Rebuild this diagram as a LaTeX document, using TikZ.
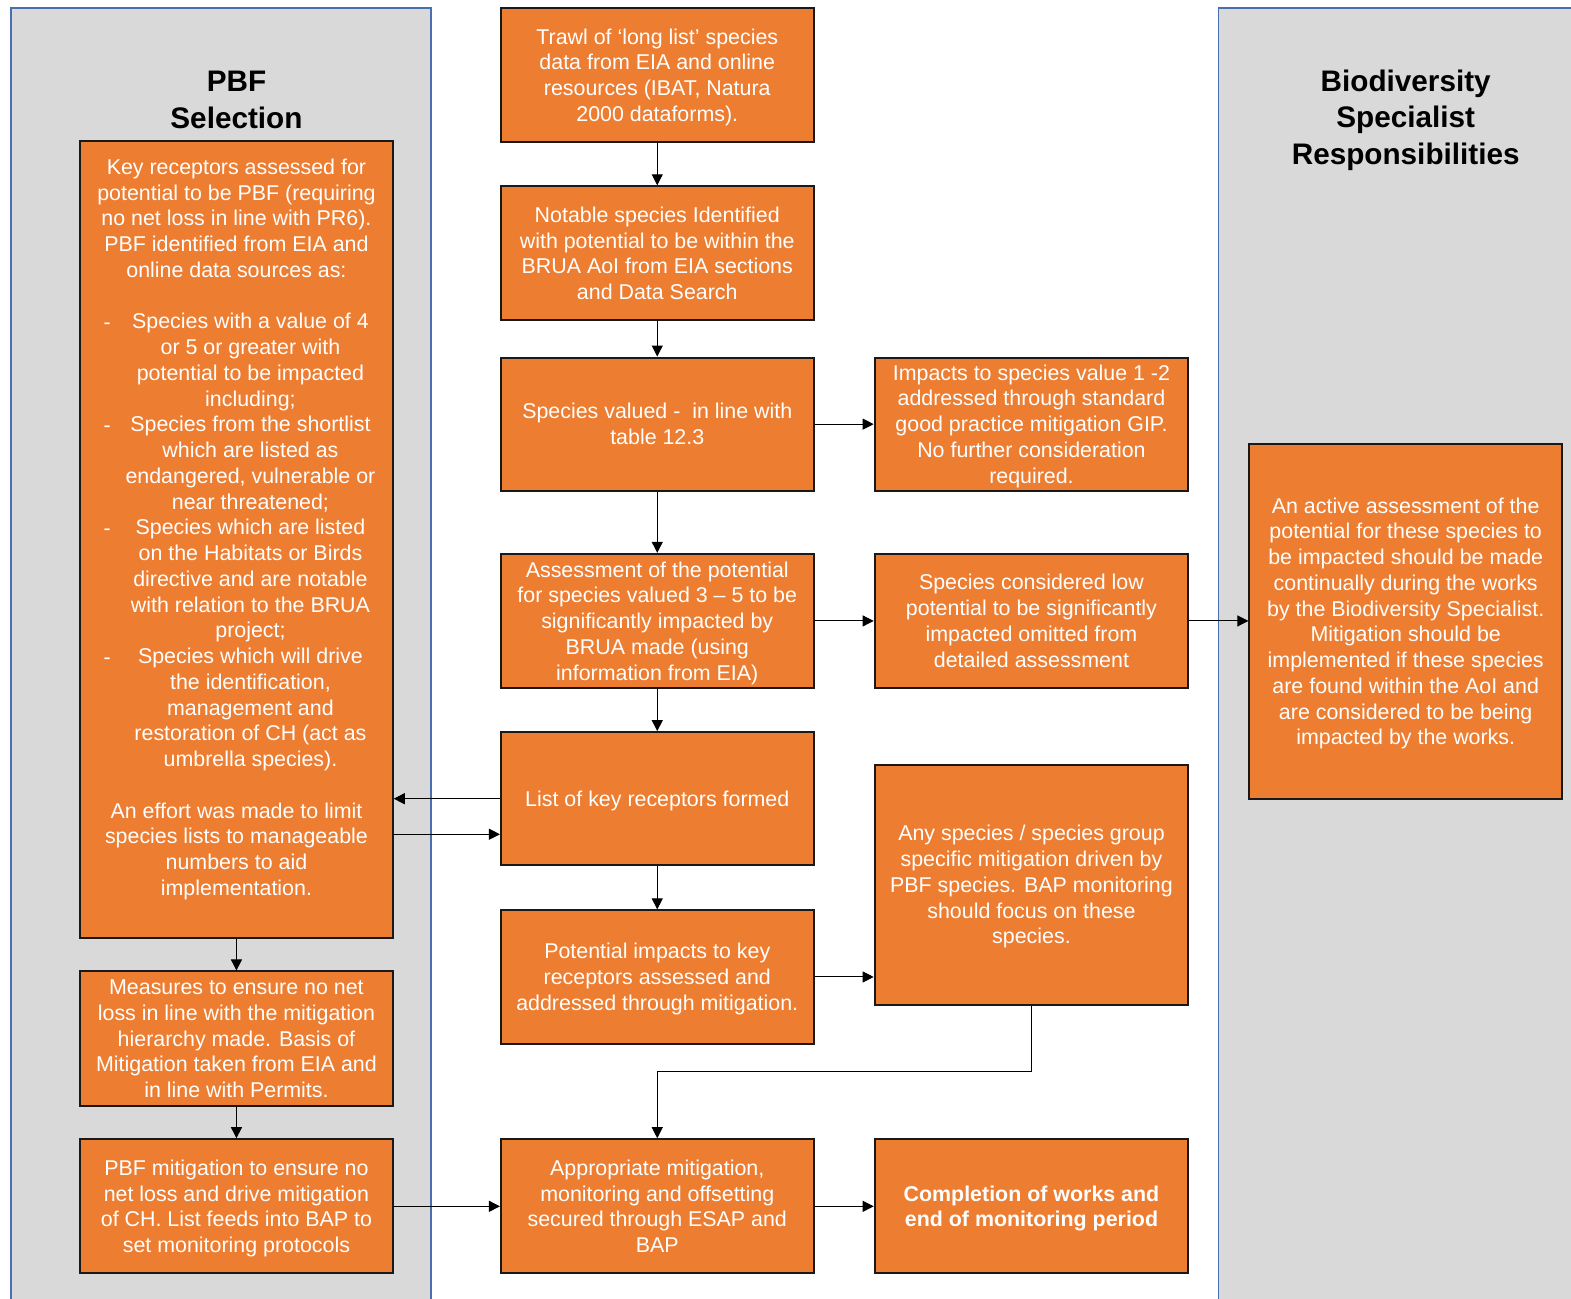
\documentclass[tikz,border=0pt]{standalone}
\usepackage{fontspec}
\usepackage{array}
\setmainfont{Liberation Sans}
\usetikzlibrary{arrows.meta,calc}
\definecolor{org}{HTML}{ED7D31}
\definecolor{pgray}{HTML}{D9D9D9}
\definecolor{pblue}{HTML}{4A6FB0}
\newcolumntype{Q}{>{\rule[-5.3pt]{0pt}{25.75pt}}c}
\newcommand{\bx}[1]{{\renewcommand{\arraystretch}{0}\setlength{\tabcolsep}{0pt}\begin{tabular}{@{}Q@{}}#1\end{tabular}}}
\newcommand{\ind}{\hspace*{28pt}}
\tikzset{
  box/.style 2 args={draw=black!90, line width=2pt, fill=org, minimum width=1.0019*#1pt, minimum height=1.0015*#2pt, inner sep=0pt,
     text=white, font=\fontsize{21.4}{25.75}\selectfont},
  txt/.style={text=white, inner sep=0pt, font=\fontsize{21.4}{25.75}\selectfont},
  ttl/.style={text=black, align=center, inner sep=0pt, font=\fontsize{29.7}{36.5}\selectfont\bfseries},
  arr/.style={draw=black, line width=1pt, -{Triangle[length=11pt,width=11pt]}},
}
\begin{document}
\begin{tikzpicture}[x=1.0019pt,y=-1.0015pt]
\useasboundingbox (0,0) rectangle (1568,1297);
% side panels
\fill[pgray] (11,8) rectangle (430,1297);
\draw[pblue, line width=1.5pt] (11,1297) -- (11,8) -- (430,8) -- (430,1297);
\fill[pgray] (1216,8) rectangle (1568,1297);
\draw[pblue, line width=1.5pt] (1216,1297) -- (1216,8) -- (1568,8);
\node[ttl] (t1) at (236,100) {PBF\\Selection};
\node[ttl] (t2) at (1403,120) {Biodiversity\\Specialist\\Responsibilities};
% central column
\node[box={312}{134}] (b1) at (656,75) {\bx{Trawl of ‘long list’ species\\data from EIA and online\\resources (IBAT, Natura\\2000 dataforms).}};
\node[box={312}{134}] (b2) at (656,253) {\bx{Notable species Identified\\with potential to be within the\\BRUA AoI from EIA sections\\and Data Search}};
\node[box={312}{133}] (b3) at (656,423.5) {\bx{Species valued -\ \ in line with\\table 12.3}};
\node[box={313}{133}] (b3r) at (1029.5,423.5) {\bx{Impacts to species value 1 -2\\addressed through standard\\good practice mitigation GIP.\\No further consideration\\required.}};
\node[box={312}{134}] (b4) at (656,620) {\bx{Assessment of the potential\\for species valued 3 – 5 to be\\significantly impacted by\\BRUA made (using\\information from EIA)}};
\node[box={313}{134}] (b4r) at (1029.5,620) {\bx{Species considered low\\potential to be significantly\\impacted omitted from\\detailed assessment}};
\node[box={312}{133}] (b5) at (656,797.5) {\bx{List of key receptors formed}};
\node[box={312}{133}] (b6) at (656,975.5) {\bx{Potential impacts to key\\receptors assessed and\\addressed through mitigation.}};
\node[box={313}{239}] (b6r) at (1029.5,883.5) {\bx{Any species / species group\\specific mitigation driven by\\PBF species. BAP monitoring\\should focus on these\\species.}};
\node[box={312}{134}] (b7) at (656,1204.5) {\bx{Appropriate mitigation,\\monitoring and offsetting\\secured through ESAP and\\BAP}};
\node[box={313}{134}, font=\fontsize{21.4}{25.75}\selectfont\bfseries] (b7r) at (1029.5,1204.5) {\bx{Completion of works and\\end of monitoring period}};
% right column
\node[box={312}{355}] (r1) at (1403,620.5) {\bx{An active assessment of the\\potential for these species to\\be impacted should be made\\continually during the works\\by the Biodiversity Specialist.\\Mitigation should be\\implemented if these species\\are found within the AoI and\\are considered to be being\\impacted by the works.}};
% left column
\node[box={312}{796}] (l1) at (236,539) {};
\node[txt] (l1t) at (236,526.5) {\bx{Key receptors assessed for\\potential to be PBF (requiring\\no net loss in line with PR6).\\PBF identified from EIA and\\online data sources as:\\ \\
\ind Species with a value of 4\\\ind or 5 or greater with\\\ind potential to be impacted\\\ind including;\\
\ind Species from the shortlist\\\ind which are listed as\\\ind endangered, vulnerable or\\\ind near threatened;\\
\ind Species which are listed\\\ind on the Habitats or Birds\\\ind directive and are notable\\\ind with relation to the BRUA\\\ind project;\\
\ind Species which will drive\\\ind the identification,\\\ind management and\\\ind restoration of CH (act as\\\ind umbrella species).\\ \\
An effort was made to limit\\species lists to manageable\\numbers to aid\\implementation.}};
\node[txt] (d1) at (107,321.5) {\bx{-}};
\node[txt] (d2) at (107,424.4) {\bx{-}};
\node[txt] (d3) at (107,527.2) {\bx{-}};
\node[txt] (d4) at (107,655.8) {\bx{-}};
\node[box={312}{134}] (l2) at (236,1037) {\bx{Measures to ensure no net\\loss in line with the mitigation\\hierarchy made. Basis of\\Mitigation taken from EIA and\\in line with Permits.}};
\node[box={312}{134}] (l3) at (236,1204.5) {\bx{PBF mitigation to ensure no\\net loss and drive mitigation\\of CH. List feeds into BAP to\\set monitoring protocols}};
% connectors
\draw[arr] (b1.south) -- (b2.north);
\draw[arr] (b2.south) -- (b3.north);
\draw[arr] (b3.south) -- (b4.north);
\draw[arr] (b4.south) -- (b5.north);
\draw[arr] (b5.south) -- (b6.north);
\draw[arr] (b3.east) -- (b3r.west);
\draw[arr] (b4.east) -- (b4r.west);
\draw[arr] (b4r.east) -- (b4r.east -| r1.west);
\draw[arr] (b5.west) -- (b5.west -| l1.east);
\coordinate (c1) at (392,833);
\draw[arr] (c1) -- (c1 -| b5.west);
\draw[arr] (b6.east) -- (b6.east -| b6r.west);
\draw[arr] (b6r.south) -- ++(0,66) -| (b7.north);
\draw[arr] (l1.south) -- (l2.north);
\draw[arr] (l2.south) -- (l3.north);
\draw[arr] (l3.east) -- (b7.west);
\draw[arr] (b7.east) -- (b7r.west);
\end{tikzpicture}
\end{document}
